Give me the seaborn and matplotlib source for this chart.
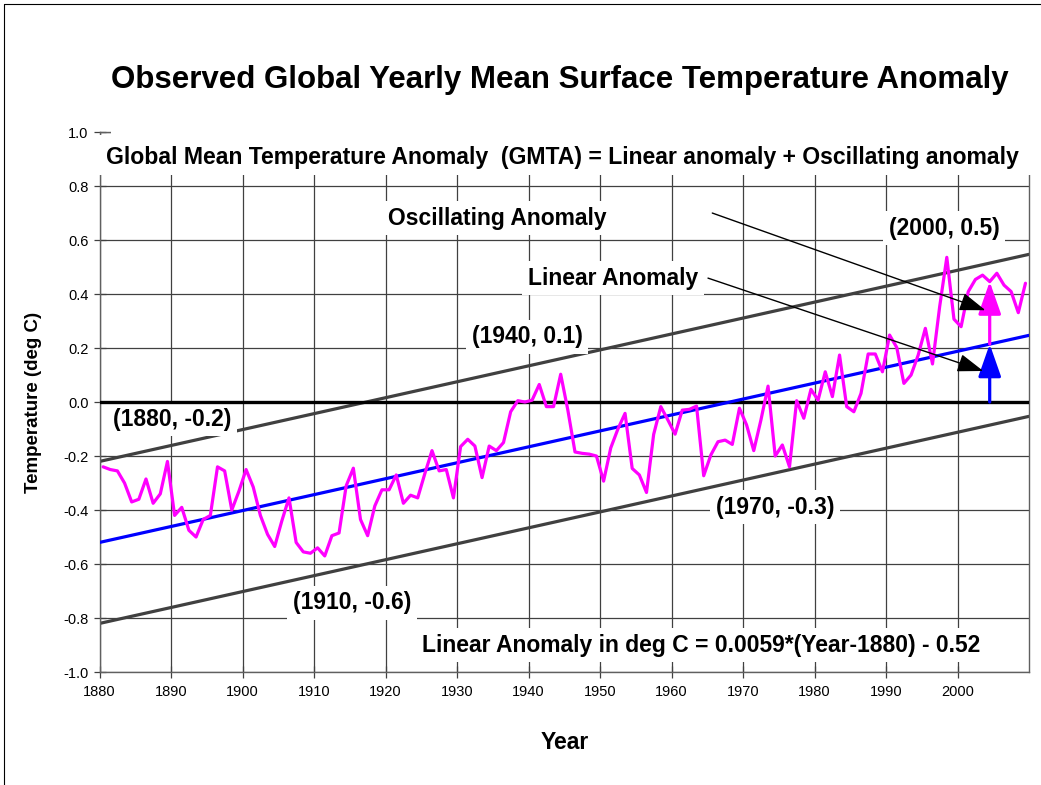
import matplotlib
matplotlib.use('Agg')
import matplotlib.pyplot as plt
from matplotlib.patches import Rectangle
from matplotlib.lines import Line2D
import seaborn as sns
import pandas as pd

# yearly global mean anomaly (deg C)
years = list(range(1880, 2010))
gmta = [-0.24, -0.25, -0.255, -0.30, -0.37, -0.36, -0.285, -0.375, -0.34, -0.22,
        -0.42, -0.39, -0.475, -0.50, -0.435, -0.42, -0.24, -0.255, -0.40, -0.33,
        -0.25, -0.315, -0.42, -0.49, -0.535, -0.44, -0.355, -0.52, -0.555, -0.56,
        -0.54, -0.57, -0.495, -0.485, -0.31, -0.245, -0.435, -0.495, -0.385, -0.325,
        -0.325, -0.27, -0.375, -0.345, -0.355, -0.265, -0.18, -0.255, -0.25, -0.355,
        -0.165, -0.138, -0.163, -0.28, -0.163, -0.18, -0.15, -0.036, 0.005, 0.0,
        0.007, 0.065, -0.017, -0.017, 0.103, -0.03, -0.185, -0.19, -0.193, -0.20,
        -0.293, -0.17, -0.10, -0.042, -0.246, -0.27, -0.335, -0.12, -0.017, -0.067,
        -0.119, -0.03, -0.027, -0.015, -0.273, -0.196, -0.147, -0.141, -0.157, -0.023,
        -0.085, -0.18, -0.067, 0.059, -0.20, -0.159, -0.24, 0.005, -0.06, 0.047,
        0.007, 0.112, 0.02, 0.174, -0.017, -0.036, 0.032, 0.178, 0.178, 0.112,
        0.248, 0.202, 0.069, 0.10, 0.174, 0.273, 0.141, 0.353, 0.536, 0.307,
        0.279, 0.409, 0.454, 0.47, 0.446, 0.477, 0.433, 0.409, 0.331, 0.44]

# straight lines: linear anomaly and +/- 0.3 band
trend_years = [1880, 2010]
linear_trend = [-0.52, 0.247]
upper_trend = [-0.22, 0.547]
lower_trend = [-0.82, -0.053]

# arrows for year 2004
arrow_year = 2004.5
arrow_linear = 0.2146
arrow_total = 0.446

x_ticks = [1880, 1890, 1900, 1910, 1920, 1930, 1940, 1950, 1960, 1970, 1980, 1990, 2000]
y_ticks = [-1.0, -0.8, -0.6, -0.4, -0.2, 0.0, 0.2, 0.4, 0.6, 0.8, 1.0]
y_tick_labels = ['-1.0', '-0.8', '-0.6', '-0.4', '-0.2', '0.0', '0.2', '0.4', '0.6', '0.8', '1.0']

sns.set_theme(style='white')
plt.rcParams['font.family'] = ['Liberation Sans', 'DejaVu Sans']
plt.rcParams['text.color'] = 'black'
plt.rcParams['axes.labelcolor'] = 'black'

df = pd.DataFrame({'year': years, 'gmta': gmta})
df['pos'] = df['year'] + 0.5
trend = pd.DataFrame({'year': trend_years, 'linear': linear_trend,
                      'upper': upper_trend, 'lower': lower_trend})

fig = plt.figure(figsize=(10.41, 7.85), dpi=100)
ax = fig.add_axes([0.0956, 0.1439, 0.8929, 0.6879])

ax.set_xlim(1880, 2010)
ax.set_ylim(-1.0, 1.0)
ax.set_xticks(x_ticks)
ax.set_yticks(y_ticks)
ax.set_yticklabels(y_tick_labels)
ax.grid(True, color='#404040', lw=0.9)
ax.set_axisbelow(True)
ax.tick_params(direction='inout', length=8, width=0.9, color='#404040',
               labelsize=10.5, labelcolor='black', bottom=True, left=True)
ax.tick_params(axis='x', pad=5)
ax.tick_params(axis='y', pad=4)
for sp in ax.spines.values():
    sp.set_color('#606060')
    sp.set_linewidth(1.0)

# band lines
sns.lineplot(data=trend, x='year', y='upper', color='#404040', lw=2.3, ax=ax, zorder=1)
sns.lineplot(data=trend, x='year', y='lower', color='#404040', lw=2.3, ax=ax, zorder=1)

# white box behind the equation text at the top of the plot
ax.add_patch(Rectangle((1879.8, 0.84), 130.7, 0.15, facecolor='white', edgecolor='none',
                       zorder=2.6, clip_on=False))
ax.add_patch(Rectangle((1881.6, 0.98), 128.9, 0.04, facecolor='white', edgecolor='none',
                       zorder=2.6, clip_on=False))

lab = dict(ha='center', va='center', fontsize=16.5, fontweight='bold', color='black', zorder=3,
           bbox=dict(boxstyle='square,pad=0.25', fc='white', ec='none'))
ax.text(1944.8, 0.904, 'Global Mean Temperature Anomaly  (GMTA) = Linear anomaly + Oscillating anomaly',
        ha='center', va='center', fontsize=16.6, fontweight='bold', color='black', zorder=3)
ax.text(1935.6, 0.681, 'Oscillating Anomaly', **lab)
ax.text(1998.1, 0.644, '(2000, 0.5)', **lab)
ax.text(1951.8, 0.459, 'Linear Anomaly', **lab)
ax.text(1939.8, 0.241, '(1940, 0.1)', **lab)
ax.text(1890.1, -0.063, '(1880, -0.2)', **lab)
ax.text(1974.5, -0.389, '(1970, -0.3)', **lab)
ax.text(1915.3, -0.744, '(1910, -0.6)', **lab)
ax.text(1964.1, -0.90, 'Linear Anomaly in deg C = 0.0059*(Year-1880) - 0.52', **lab)

# zero line, linear anomaly and data
ax.axhline(0.0, color='black', lw=2.4, zorder=4)
sns.lineplot(data=trend, x='year', y='linear', color='#0000FF', lw=2.3, ax=ax, zorder=4)
sns.lineplot(data=df, x='pos', y='gmta', color='#FF00FF', lw=2.3, ax=ax, zorder=5)

head = '-|>,head_length=1.0,head_width=0.35'
ax.annotate('', xy=(arrow_year, arrow_linear), xytext=(arrow_year, 0.0),
            arrowprops=dict(arrowstyle=head, color='#0000FF', lw=2.3, mutation_scale=20,
                            shrinkA=0, shrinkB=0), zorder=6)
ax.annotate('', xy=(arrow_year, arrow_total), xytext=(arrow_year, arrow_linear),
            arrowprops=dict(arrowstyle=head, color='#FF00FF', lw=2.3, mutation_scale=20,
                            shrinkA=0, shrinkB=0), zorder=6)
ax.annotate('', xy=(2003.9, 0.34), xytext=(1965.7, 0.70),
            arrowprops=dict(arrowstyle=head, color='black', lw=1.0, mutation_scale=16,
                            shrinkA=0, shrinkB=0), zorder=6)
ax.annotate('', xy=(2003.6, 0.115), xytext=(1965.1, 0.459),
            arrowprops=dict(arrowstyle=head, color='black', lw=1.0, mutation_scale=16,
                            shrinkA=0, shrinkB=0), zorder=6)

ax.set_xlabel('Year', fontsize=16.5, fontweight='bold')
ax.set_ylabel('Temperature (deg C)', fontsize=13.5, fontweight='bold')
ax.xaxis.set_label_coords(0.5008, -0.109)
ax.yaxis.set_label_coords(-0.062, 0.5)

fig.text(0.538, 1 - 80 / 785, 'Observed Global Yearly Mean Surface Temperature Anomaly',
         ha='center', va='center', fontsize=22.5, fontweight='bold', color='black')

# chart area frame (left and top edges)
fig.add_artist(Line2D([4 / 1041, 4 / 1041], [0, 1 - 4 / 785], color='black', lw=0.8))
fig.add_artist(Line2D([4 / 1041, 1], [1 - 4 / 785, 1 - 4 / 785], color='black', lw=0.8))

fig.savefig('out.png', dpi=100)
